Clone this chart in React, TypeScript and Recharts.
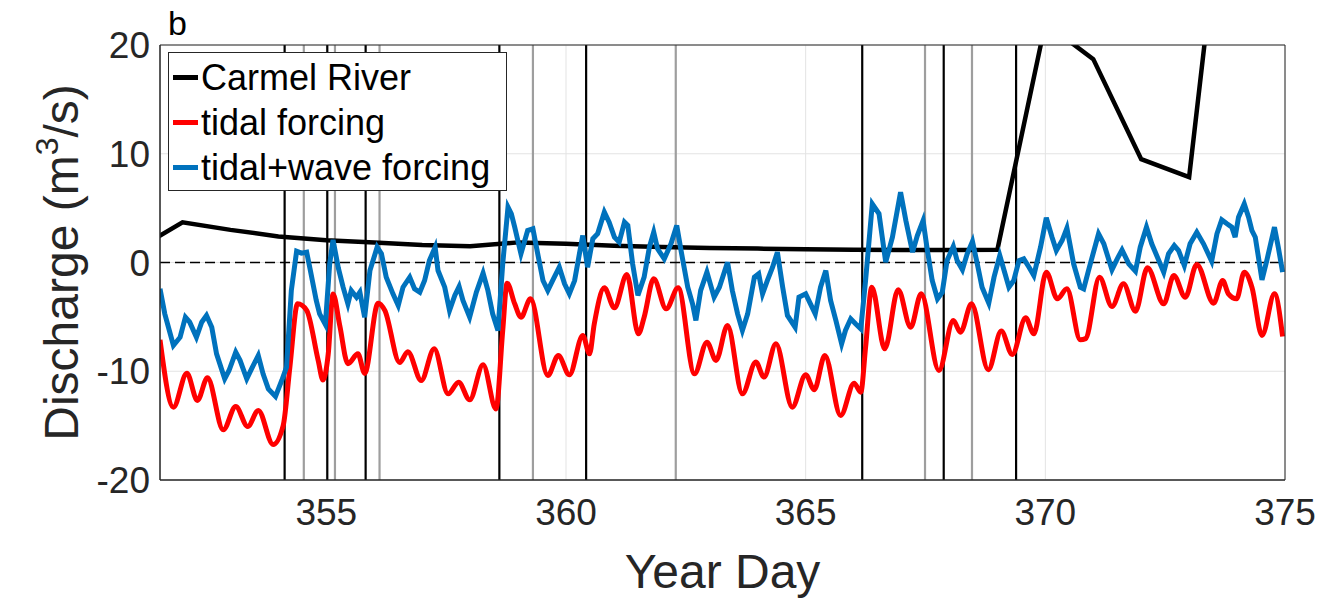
import { LineChart, Line, XAxis, YAxis, CartesianGrid, ReferenceLine, Legend } from "recharts";

// Carmel River daily discharge (m3/s)
const riverDay = [351, 352, 353, 354, 355, 356, 357, 358, 359, 360, 361, 362, 363, 364, 365, 366, 367, 368, 369, 370, 371, 372, 373, 374];
const riverQ = [1.1, 3.7, 3.0, 2.4, 2.05, 1.85, 1.62, 1.5, 1.85, 1.72, 1.55, 1.42, 1.33, 1.28, 1.22, 1.17, 1.15, 1.15, 1.17, 22, 18.7, 9.5, 7.85, 46];

// model, tidal forcing only
const tidalDay = [
  351.53, 351.81, 352.09, 352.31, 352.52, 352.85, 353.11, 353.36, 353.58, 353.89, 354.1, 354.24, 354.4, 354.59, 354.83, 354.93,
  355.04, 355.14, 355.28, 355.45, 355.66, 355.8, 356.08, 356.22, 356.53, 356.7, 356.98, 357.25, 357.54, 357.76, 357.99, 358.27,
  358.54, 358.68, 358.77, 358.93, 359.06, 359.26, 359.62, 359.84, 360.07, 360.35, 360.49, 360.59, 360.8, 361.01, 361.27, 361.51,
  361.63, 361.83, 362.09, 362.34, 362.68, 362.94, 363.13, 363.37, 363.68, 363.96, 364.13, 364.38, 364.72, 365.0, 365.18, 365.4,
  365.73, 366.01, 366.15, 366.25, 366.38, 366.65, 366.93, 367.19, 367.41, 367.78, 368.08, 368.23, 368.46, 368.81, 369.08, 369.31,
  369.59, 369.76, 370.02, 370.25, 370.45, 370.73, 370.84, 371.13, 371.39, 371.63, 371.88, 372.13, 372.47, 372.68, 372.92, 373.16,
  373.51, 373.7, 373.82, 373.99, 374.15, 374.31, 374.52, 374.78, 374.95,
];
const tidalQ = [
  -7.11, -13.3, -10.18, -12.69, -10.6, -15.39, -13.24, -15.08, -13.6, -16.74, -15.0, -9.6, -3.8, -4.4, -9.0, -10.8,
  -8.4, -2.9, -5.8, -9.3, -8.4, -10.2, -3.74, -4.4, -9.2, -8.2, -10.85, -7.94, -12.08, -11.0, -12.63, -9.41,
  -13.46, -6.25, -1.9, -3.8, -5.03, -3.34, -10.39, -8.55, -10.33, -6.71, -8.4, -5.64, -2.33, -4.17, -1.1, -6.56,
  -5.03, -1.5, -4.26, -2.33, -10.24, -7.33, -9.0, -5.79, -12.08, -9.16, -10.54, -7.48, -13.3, -10.33, -11.7, -8.55,
  -14.07, -11.1, -11.92, -7.8, -2.27, -7.94, -2.5, -5.95, -2.88, -9.93, -5.33, -6.41, -3.8, -9.87, -6.31, -8.46,
  -5.09, -6.56, -0.89, -3.34, -2.42, -7.11, -7.0, -1.35, -4.05, -1.96, -4.48, -0.49, -3.8, -1.2, -3.19, -0.18,
  -3.74, -1.66, -2.88, -3.34, -0.89, -2.27, -6.71, -2.88, -6.8,
];

// model, tidal + wave forcing
const waveDay = [
  351.53, 351.63, 351.81, 351.95, 352.06, 352.15, 352.29, 352.4, 352.5, 352.61, 352.71, 352.88, 352.97, 353.11, 353.2, 353.34,
  353.44, 353.58, 353.68, 353.79, 353.94, 354.07, 354.17, 354.27, 354.38, 354.48, 354.59, 354.66, 354.79, 354.86, 354.98, 355.07,
  355.14, 355.25, 355.35, 355.45, 355.52, 355.63, 355.7, 355.8, 355.91, 356.06, 356.15, 356.25, 356.39, 356.5, 356.6, 356.74,
  356.84, 356.95, 357.05, 357.15, 357.27, 357.33, 357.47, 357.57, 357.68, 357.77, 357.85, 357.99, 358.13, 358.27, 358.37, 358.47,
  358.58, 358.68, 358.79, 358.86, 358.93, 359.06, 359.2, 359.31, 359.41, 359.52, 359.62, 359.72, 359.86, 359.97, 360.07, 360.18,
  360.28, 360.35, 360.45, 360.56, 360.66, 360.8, 360.9, 361.01, 361.11, 361.22, 361.29, 361.39, 361.5, 361.63, 361.74, 361.83,
  361.91, 362.05, 362.19, 362.31, 362.4, 362.54, 362.64, 362.71, 362.81, 362.94, 363.09, 363.2, 363.37, 363.47, 363.58, 363.68,
  363.79, 363.93, 364.02, 364.1, 364.2, 364.31, 364.41, 364.52, 364.62, 364.78, 364.86, 365.0, 365.1, 365.2, 365.31, 365.42,
  365.52, 365.63, 365.75, 365.83, 365.94, 366.04, 366.15, 366.25, 366.39, 366.53, 366.67, 366.81, 366.98, 367.09, 367.23, 367.33,
  367.45, 367.54, 367.64, 367.75, 367.85, 367.95, 368.08, 368.16, 368.27, 368.37, 368.48, 368.58, 368.68, 368.82, 368.93, 369.05,
  369.14, 369.24, 369.34, 369.45, 369.55, 369.66, 369.76, 369.9, 370.02, 370.14, 370.23, 370.35, 370.45, 370.59, 370.73, 370.8,
  370.9, 371.11, 371.22, 371.39, 371.5, 371.6, 371.74, 371.88, 371.98, 372.11, 372.22, 372.47, 372.57, 372.69, 372.78, 372.9,
  373.02, 373.16, 373.3, 373.47, 373.58, 373.68, 373.79, 373.89, 373.96, 374.03, 374.15, 374.24, 374.31, 374.38, 374.52, 374.62,
  374.78, 374.86, 374.95,
];
const waveQ = [
  -2.42, -4.72, -7.63, -6.87, -5.03, -5.49, -6.87, -5.49, -4.87, -5.95, -8.4, -10.7, -9.93, -8.25, -9.0, -10.7,
  -9.78, -8.55, -10.24, -11.62, -12.32, -10.85, -9.62, -2.57, 1.04, 0.86, 0.95, -0.58, -3.49, -4.72, -5.7, -0.12,
  2.08, -0.5, -2.27, -3.8, -2.57, -3.19, -2.73, -5.03, -0.74, 1.41, 0.8, -1.35, -2.88, -3.95, -2.27, -1.35,
  -2.42, -2.73, -1.66, 0.18, 1.41, -0.74, -2.27, -4.41, -3.03, -2.21, -3.49, -5.03, -2.73, -0.98, -2.57, -4.72,
  -6.25, -0.12, 5.09, 4.48, 3.25, 0.8, 2.94, 3.1, 0.8, -1.66, -2.57, -1.66, -0.43, -1.96, -2.88, -1.66,
  0.8, 2.48, -0.43, 2.18, 2.64, 4.63, 3.71, 2.33, 1.87, 3.71, 3.4, -0.12, -3.03, -1.35, 1.41, 2.79,
  1.26, 0.34, 1.72, 3.4, 1.1, -2.27, -3.8, -5.33, -2.57, -0.89, -3.19, -2.27, 0.03, -2.57, -4.72, -6.25,
  -4.72, -1.35, -1.04, -2.88, -1.66, -0.43, 0.95, -2.27, -4.87, -5.95, -3.19, -2.88, -3.8, -4.72, -2.27, -0.74,
  -3.49, -5.33, -7.48, -6.25, -5.18, -5.64, -6.1, -1.66, 5.39, 4.48, 0.03, 2.33, 6.47, 3.86, 0.95, 2.48,
  3.86, 1.1, -1.66, -3.34, -2.73, 0.18, 1.47, 0.18, -0.67, 0.8, 1.93, -0.12, -2.27, -3.74, -1.35, 0.64,
  -0.74, -2.27, -1.66, 0.18, 0.34, -0.43, -1.2, 1.41, 4.11, 2.33, 1.1, 2.02, 3.16, -0.12, -2.27, -2.42,
  -0.74, 2.64, 1.72, -0.67, 0.34, 1.16, -0.12, -0.8, 1.41, 3.25, 1.72, -0.89, 0.8, 1.56, 1.1, -0.28,
  1.72, 2.79, 1.72, 0.12, 2.64, 3.92, 3.56, 3.25, 2.33, 4.17, 5.39, 4.17, 2.94, 2.33, -1.59, 0.18,
  3.25, 1.41, -0.89,
];

// event markers (year day)
const blackMarks = [354.13, 355.02, 355.82, 358.61, 360.42, 366.18, 367.88, 369.39];
const grayMarks = [354.53, 355.18, 356.11, 359.31, 362.29, 367.49, 368.47];

const xDomain = [351.53, 375];
const yDomain = [-20, 20];
const xTicks = [355, 360, 365, 370, 375];
const yTicks = [-20, -10, 0, 10, 20];

const series = [
  { name: "Carmel River", color: "#000000" },
  { name: "tidal forcing", color: "#ff0000" },
  { name: "tidal+wave forcing", color: "#0072bd" },
];

const FONT = "'Liberation Sans', Arial, Helvetica, sans-serif";
const AXIS = "#262626";

const riverData = riverDay.map((d, i) => ({ day: d, q: riverQ[i] }));
const tidalData = tidalDay.map((d, i) => ({ day: d, q: tidalQ[i] }));
const waveData = waveDay.map((d, i) => ({ day: d, q: waveQ[i] }));

function YTitle(props: any) {
  const vb = props.viewBox || {};
  const cx = 78;
  const cy = (vb.y ?? 45) + (vb.height ?? 435) / 2;
  return (
    <text x={cx} y={cy} transform={`rotate(-90, ${cx}, ${cy})`} textAnchor="middle" fontSize={48} fill={AXIS} fontFamily={FONT}>
      Discharge (m
      <tspan dy={-20} fontSize={32}>3</tspan>
      <tspan dy={20}>/s)</tspan>
    </text>
  );
}

function XTitle(props: any) {
  const vb = props.viewBox || {};
  const cx = (vb.x ?? 160) + (vb.width ?? 1125) / 2;
  return (
    <text x={cx} y={(vb.y ?? 480) + 108} textAnchor="middle" fontSize={48} fill={AXIS} fontFamily={FONT}>
      Year Day
    </text>
  );
}

function LegendBox() {
  return (
    <div
      style={{
        background: "#fff",
        border: `1px solid ${AXIS}`,
        padding: "2px 10px 0 4px",
        fontFamily: FONT,
        fontSize: 36,
        color: "#000",
        width: 323,
      }}
    >
      {series.map((s) => (
        <div key={s.name} style={{ display: "flex", alignItems: "center", height: 45, whiteSpace: "nowrap" }}>
          <div style={{ width: 25, height: 5, background: s.color, marginRight: 3 }} />
          <span>{s.name}</span>
        </div>
      ))}
    </div>
  );
}

export default function App() {
  return (
    <div style={{ position: "absolute", left: 0, top: 0, width: 1327, height: 599, background: "#fff" }}>
      <LineChart width={1327} height={599} margin={{ top: 45, right: 42, bottom: 0, left: 0 }}>
        <CartesianGrid stroke="#e3e3e3" strokeWidth={1} />
        <XAxis
          dataKey="day"
          type="number"
          domain={xDomain}
          allowDataOverflow
          ticks={xTicks}
          height={119}
          tickLine={false}
          tickSize={0}
          tickMargin={19}
          stroke={AXIS}
          tick={{ fontSize: 37, fill: AXIS, fontFamily: FONT }}
          label={<XTitle />}
        />
        <XAxis xAxisId="bIn" type="number" domain={xDomain} allowDataOverflow ticks={xTicks} orientation="bottom" mirror tick={false} tickSize={11} stroke={AXIS} />
        <XAxis xAxisId="top" type="number" domain={xDomain} allowDataOverflow ticks={xTicks} orientation="top" mirror tick={false} tickSize={11} stroke={AXIS} />
        <YAxis
          type="number"
          domain={yDomain}
          allowDataOverflow
          ticks={yTicks}
          width={160}
          tickLine={false}
          tickSize={0}
          tickMargin={10}
          stroke={AXIS}
          tick={{ fontSize: 37, fill: AXIS, fontFamily: FONT }}
          label={<YTitle />}
        />
        <YAxis yAxisId="lIn" type="number" domain={yDomain} allowDataOverflow ticks={yTicks} orientation="left" mirror tick={false} tickSize={11} stroke={AXIS} />
        <YAxis yAxisId="right" type="number" domain={yDomain} allowDataOverflow ticks={yTicks} orientation="right" mirror tick={false} tickSize={11} stroke={AXIS} />

        {grayMarks.map((d) => (
          <ReferenceLine key={`g${d}`} x={d} stroke="#9e9e9e" strokeWidth={2.2} />
        ))}
        {blackMarks.map((d) => (
          <ReferenceLine key={`k${d}`} x={d} stroke="#000" strokeWidth={2.2} />
        ))}
        <ReferenceLine y={0} stroke="#000" strokeWidth={1.6} strokeDasharray="10 5" />

        <Line data={riverData} dataKey="q" name={series[0].name} stroke={series[0].color} strokeWidth={4.5} dot={false} type="linear" isAnimationActive={false} />
        <Line data={tidalData} dataKey="q" name={series[1].name} stroke={series[1].color} strokeWidth={5} dot={false} type="monotone" isAnimationActive={false} />
        <Line data={waveData} dataKey="q" name={series[2].name} stroke={series[2].color} strokeWidth={5} dot={false} type="linear" isAnimationActive={false} />

        <Legend
          layout="vertical"
          align="center"
          verticalAlign="middle"
          content={() => <LegendBox />}
          wrapperStyle={{ left: 168, top: 52, width: "auto", height: "auto" }}
        />
      </LineChart>
      <div style={{ position: "absolute", left: 168, top: 6, fontFamily: FONT, fontSize: 34, lineHeight: "34px", color: "#000" }}>b</div>
    </div>
  );
}
